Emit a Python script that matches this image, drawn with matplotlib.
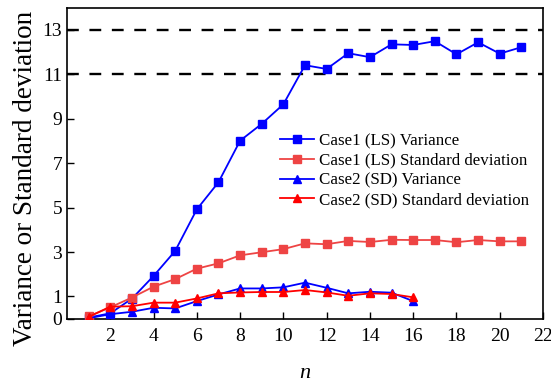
import matplotlib
matplotlib.use("Agg")
import matplotlib.pyplot as plt

plt.rcParams['font.family'] = ['Liberation Serif', 'DejaVu Serif']
plt.rcParams['mathtext.fontset'] = 'custom'
plt.rcParams['mathtext.it'] = 'Liberation Serif:italic'

n_case1 = list(range(1, 22))
case1_var = [0.05, 0.24, 0.90, 1.92, 3.05, 4.92, 6.14, 8.01, 8.77, 9.65, 11.41,
             11.24, 11.95, 11.77, 12.35, 12.32, 12.49, 11.90, 12.44, 11.93, 12.22]
case1_sd = [0.10, 0.51, 0.95, 1.44, 1.78, 2.25, 2.49, 2.85, 2.99, 3.13, 3.39,
            3.35, 3.50, 3.45, 3.55, 3.54, 3.54, 3.44, 3.54, 3.48, 3.48]
n_case2 = list(range(1, 17))
case2_var = [0.02, 0.20, 0.31, 0.49, 0.46, 0.79, 1.09, 1.36, 1.36, 1.41, 1.62,
             1.39, 1.14, 1.21, 1.17, 0.79]
case2_sd = [0.08, 0.54, 0.56, 0.72, 0.72, 0.91, 1.14, 1.18, 1.20, 1.20, 1.29,
            1.18, 1.03, 1.14, 1.11, 0.96]
ref_lines = [11, 13]
xticks = list(range(2, 23, 2))
yticks = [0, 1, 3, 5, 7, 9, 11, 13]

fig = plt.figure(figsize=(5.51, 3.83), dpi=100)
ax = fig.add_axes([0.1216, 0.168, 0.8639, 0.812])

for y in ref_lines:
    ax.axhline(y, color='black', lw=1.7, ls=(0, (5, 4.5)), zorder=1)

blue = '#0000FF'
red_light = '#EE4444'
red = '#FF0000'
ax.plot(n_case1, case1_var, color=blue, lw=1.3, marker='s', ms=5.6,
        label='Case1 (LS) Variance', zorder=3)
ax.plot(n_case1, case1_sd, color=red_light, lw=1.3, marker='s', ms=5.6,
        label='Case1 (LS) Standard deviation', zorder=3)
ax.plot(n_case2, case2_var, color=blue, lw=1.3, marker='^', ms=6.2,
        label='Case2 (SD) Variance', zorder=4)
ax.plot(n_case2, case2_sd, color=red, lw=1.3, marker='^', ms=6.2,
        label='Case2 (SD) Standard deviation', zorder=5)

ax.set_xlim(0, 22)
ax.set_ylim(0, 14)
ax.set_xticks(xticks)
ax.set_yticks(yticks)
ax.tick_params(direction='in', length=5, width=1, labelsize=14)
ax.tick_params(axis='x', pad=7)
for s in ax.spines.values():
    s.set_linewidth(1.2)

ax.set_xlabel('$n$', fontsize=16)
ax.xaxis.set_label_coords(0.5, -0.145)
ax.set_ylabel('Variance or Standard deviation', fontsize=19.5)
ax.yaxis.set_label_coords(-0.061, 0.452)

ax.legend(loc='center left', bbox_to_anchor=(0.447, 0.476), frameon=False,
          fontsize=12.2, handlelength=2.0, handletextpad=0.3, labelspacing=0.22,
          borderpad=0, borderaxespad=0)

fig.savefig('out.png', dpi=100)
